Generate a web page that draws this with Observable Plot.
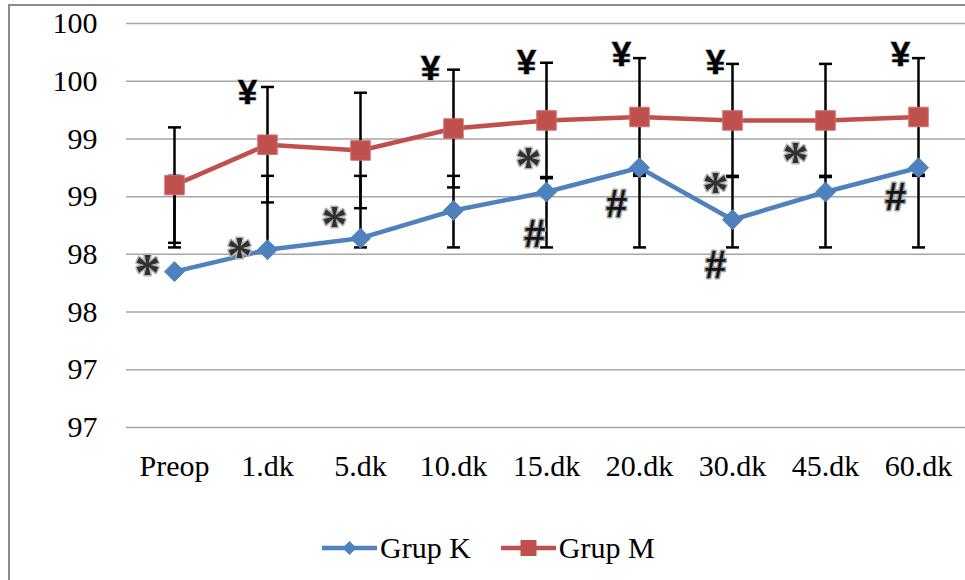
<!DOCTYPE html>
<html>
<head>
<meta charset="utf-8">
<script src="https://cdn.jsdelivr.net/npm/d3@7"></script>
<script src="https://cdn.jsdelivr.net/npm/@observablehq/plot@0.6"></script>
<style>
  body { margin: 0; background: #fff; }
  #wrap { position: relative; width: 965px; height: 580px; overflow: hidden; background: #fff;
          font-family: "Liberation Serif", "Tinos", "Times New Roman", "DejaVu Serif", serif; }
  #chart { position: absolute; left: 0; top: 0; }
  #chart svg text { font-family: "Liberation Serif", "Tinos", "Times New Roman", "DejaVu Serif", serif; }
  #chart svg g.annot text { font-family: "Liberation Sans", "Arial", sans-serif; }
  #chart svg g.annot.star text { font-family: "Liberation Serif", "DejaVu Serif", serif; }
  #frame { position: absolute; left: 8px; top: 4px; width: 2000px; height: 2000px;
           border-left: 2px solid #8c8c8c; border-top: 2px solid #8c8c8c; pointer-events: none; }
  #legend { position: absolute; left: 322px; top: 528px; height: 40px; display: flex; align-items: center;
            font-size: 30px; color: #000; }
  .item { display: flex; align-items: center; }
  .item svg { display: block; }
  .item span { margin-left: 3px; }
  .gap { width: 30px; }
</style>
</head>
<body>
<div id="wrap">
  <div id="chart"></div>
  <div id="legend"></div>
  <div id="frame"></div>
</div>
<script>
// ---- data ----
const categories = ["Preop", "1.dk", "5.dk", "10.dk", "15.dk", "20.dk", "30.dk", "45.dk", "60.dk"];
const grupK = [97.85, 98.04, 98.14, 98.38, 98.54, 98.75, 98.30, 98.54, 98.75];
const grupM = [98.60, 98.95, 98.90, 99.09, 99.16, 99.19, 99.16, 99.16, 99.19];
// Grup M error bars (±)
const grupMErr = [0.50, 0.50, 0.50, 0.51, 0.50, 0.51, 0.49, 0.49, 0.51];
// Grup K error bars (custom low / high ends)
const grupKErrLow  = [98.06, 98.06, 98.06, 98.06, 98.06, 98.06, 98.06, 98.06, 98.06];
const grupKErrHigh = [98.68, 98.68, 98.68, 98.68, 98.67, 98.70, 98.68, 98.68, 98.69];
const yTickValues = [96.5, 97, 97.5, 98, 98.5, 99, 99.5, 100];
const yTickLabels = ["97", "97", "98", "98", "99", "99", "100", "100"];
const seriesNames = ["Grup K", "Grup M"];
const seriesColors = ["#4F81BD", "#C0504D"];
// significance markers
const annotCats    = ["Preop", "1.dk", "5.dk", "1.dk", "10.dk", "15.dk", "20.dk", "15.dk", "15.dk", "20.dk", "30.dk", "30.dk", "30.dk", "45.dk", "60.dk", "60.dk"];
const annotSymbols = ["*", "*", "*", "¥", "¥", "¥", "¥", "*", "#", "#", "¥", "*", "#", "*", "¥", "#"];
const annotValues  = [97.93, 98.08, 98.35, 99.40, 99.61, 99.66, 99.73, 98.86, 98.17, 98.43, 99.66, 98.64, 97.90, 98.90, 99.73, 98.49];
const annotNudge   = [-27, -28, -26, -20, -23, -20, -18, -18, -12, -23, -17, -17, -17, -30, -18, -23];

// ---- derived tables ----
const kRows = categories.map((c, i) => ({cat: c, v: grupK[i]}));
const mRows = categories.map((c, i) => ({cat: c, v: grupM[i]}));
const mErrRows = categories.map((c, i) => ({cat: c, lo: grupM[i] - grupMErr[i], hi: grupM[i] + grupMErr[i]}));
const kErrRows = categories.map((c, i) => ({cat: c, lo: grupKErrLow[i], hi: grupKErrHigh[i]}));
const capRows = [...mErrRows, ...kErrRows].flatMap(d => [{cat: d.cat, y: d.lo}, {cat: d.cat, y: d.hi}]);
const annots = annotCats.map((c, i) => ({cat: c, sym: annotSymbols[i], v: annotValues[i], dx: annotNudge[i]}));

const capSymbol = {
  draw(context, size) {
    const w = Math.sqrt(size / Math.PI);
    context.moveTo(-w, 0);
    context.lineTo(w, 0);
  }
};

const symStyle = {
  "*": {cls: "annot star", fontSize: 52, fontWeight: "bold", fill: "#303030", stroke: "#b4b4b4", strokeWidth: 3, dy: 11},
  "¥": {cls: "annot", fontSize: 35, fontWeight: "bold", fill: "#000", stroke: "#b0b0b0", strokeWidth: 1.5, dy: 0},
  "#": {cls: "annot", fontSize: 38, fontWeight: "bold", fill: "#151515", stroke: "#a0a0a0", strokeWidth: 3, dy: 0}
};

const annotMarks = annots.map(a => {
  const s = symStyle[a.sym];
  return Plot.text([a], {
    x: "cat", y: "v", text: "sym", dx: a.dx, dy: s.dy, className: s.cls,
    fontSize: s.fontSize, fontWeight: s.fontWeight,
    fill: s.fill, stroke: s.stroke, strokeWidth: s.strokeWidth, paintOrder: "stroke",
    lineAnchor: "middle", textAnchor: "middle"
  });
});

const plot = Plot.plot({
  width: 965,
  height: 500,
  marginLeft: 126,
  marginRight: 0,
  marginTop: 23,
  marginBottom: 73,
  style: {fontSize: "30px", color: "#000", background: "transparent", overflow: "visible"},
  x: {type: "point", domain: categories, padding: 0.5},
  y: {domain: [96.5, 100]},
  marks: [
    Plot.gridY(yTickValues, {stroke: "#a6a6a6", strokeOpacity: 1, strokeWidth: 1.5}),
    Plot.axisY(yTickValues, {tickSize: 0, tickPadding: 29, fontSize: 30, fill: "#000",
      tickFormat: d => yTickLabels[yTickValues.indexOf(d)], label: null}),
    Plot.axisX({tickSize: 0, tickPadding: 27, fontSize: 30, fill: "#000", label: null}),
    Plot.ruleX(mErrRows, {x: "cat", y1: "lo", y2: "hi", stroke: "#000", strokeWidth: 2.5}),
    Plot.ruleX(kErrRows, {x: "cat", y1: "lo", y2: "hi", stroke: "#000", strokeWidth: 2.5}),
    Plot.dot(capRows, {x: "cat", y: "y", symbol: capSymbol, r: 6.5, stroke: "#000", strokeWidth: 2.5, fill: "none"}),
    Plot.line(kRows, {x: "cat", y: "v", stroke: seriesColors[0], strokeWidth: 4.5}),
    Plot.line(mRows, {x: "cat", y: "v", stroke: seriesColors[1], strokeWidth: 4.5}),
    Plot.dot(kRows, {x: "cat", y: "v", symbol: "diamond2", r: 9, fill: seriesColors[0], stroke: seriesColors[0], strokeWidth: 1}),
    Plot.dot(mRows, {x: "cat", y: "v", symbol: "square", r: 11, fill: seriesColors[1], stroke: "#d0706d", strokeWidth: 1}),
    ...annotMarks
  ]
});
document.getElementById("chart").appendChild(plot);

// ---- legend ----
const legend = document.getElementById("legend");
seriesNames.forEach((name, i) => {
  if (i > 0) { const g = document.createElement("div"); g.className = "gap"; legend.appendChild(g); }
  const item = document.createElement("div");
  item.className = "item";
  const marker = i === 0
    ? `<path d="M27.5,5 L34.5,12 L27.5,19 L20.5,12 Z" fill="${seriesColors[i]}"/>`
    : `<rect x="19.5" y="4" width="16" height="16" fill="${seriesColors[i]}"/>`;
  item.innerHTML = `<svg width="55" height="24"><line x1="0" y1="12" x2="55" y2="12" stroke="${seriesColors[i]}" stroke-width="4.5" stroke-linecap="round"/>${marker}</svg><span>${name}</span>`;
  legend.appendChild(item);
});
</script>
</body>
</html>
